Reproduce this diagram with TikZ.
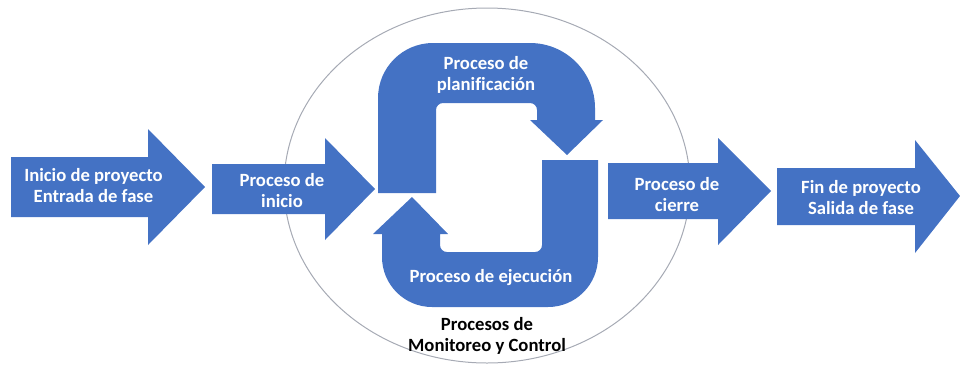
\documentclass[tikz,border=0pt]{standalone}
\usepackage{fontspec}
\setmainfont{Carlito}[Ligatures=NoCommon]
\definecolor{procblue}{HTML}{4472C4}
\definecolor{ringgray}{HTML}{A6AAB4}
\begin{document}
\begin{tikzpicture}[x=1pt,y=1pt,
  blockarrow/.style={fill=procblue, draw=none},
  whitelabel/.style={text=white, align=center, inner sep=0pt,
    font=\fontsize{18.67}{21}\selectfont\bfseries},
  blacklabel/.style={text=black, align=center, inner sep=0pt,
    font=\fontsize{18.67}{21}\selectfont\bfseries}]
\useasboundingbox (0,0) rectangle (960,-365);
\clip (0,0) rectangle (960,-365);

% monitoring & control ring
\draw[ringgray, line width=1pt] (487,-185.5) ellipse [x radius=203, y radius=177.5];

% phase entry arrow
\fill[blockarrow] (11,-157) -- (148,-157) -- (148,-129) -- (205,-187)
  -- (148,-245) -- (148,-217) -- (11,-217) -- cycle;
% initiating process arrow
\fill[blockarrow] (212,-164) -- (325,-164) -- (325,-138) -- (375,-189)
  -- (325,-240) -- (325,-214) -- (212,-214) -- cycle;
% closing process arrow
\fill[blockarrow] (608,-163) -- (718,-163) -- (718,-138) -- (771,-191)
  -- (718,-245) -- (718,-219) -- (608,-219) -- cycle;
% phase exit arrow
\fill[blockarrow] (777,-168) -- (915,-168) -- (915,-140) -- (960,-196)
  -- (915,-253) -- (915,-225) -- (777,-225) -- cycle;

% planning U-turn arrow
\fill[blockarrow] (378,-193) -- (378,-98) arc[start angle=180, end angle=90, radius=55]
  -- (530,-43) arc[start angle=90, end angle=0, radius=65]
  -- (595,-120) -- (603,-120) -- (567,-155) -- (530,-120) -- (537,-120)
  -- (537,-110) arc[start angle=0, end angle=90, radius=7]
  -- (443,-103) arc[start angle=90, end angle=180, radius=7]
  -- (436,-193) -- cycle;

% executing U-turn arrow
\fill[blockarrow] (598,-160) -- (598,-257) arc[start angle=0, end angle=-90, radius=50]
  -- (432,-307) arc[start angle=270, end angle=180, radius=50]
  -- (382,-234) -- (373,-234) -- (412,-197) -- (448,-234) -- (440,-234)
  -- (440,-245) arc[start angle=180, end angle=270, radius=7]
  -- (535,-252) arc[start angle=270, end angle=360, radius=7]
  -- (542,-160) -- cycle;

% labels
\node[whitelabel] (entrada) at (93.5,-186) {Inicio de proyecto\\Entrada de fase};
\node[whitelabel] (inicio) at (282,-191) {Proceso de\\inicio};
\node[whitelabel] (planif) at (486,-75) {Proceso de\\planificación};
\node[whitelabel] (ejec) at (491,-277.5) {Proceso de ejecución};
\node[whitelabel] (cierre) at (677,-194.5) {Proceso de\\cierre};
\node[whitelabel] (salida) at (861,-197.5) {Fin de proyecto\\Salida de fase};
\node[blacklabel] (monitor) at (487,-336) {Procesos de\\Monitoreo y Control};
\end{tikzpicture}
\end{document}
